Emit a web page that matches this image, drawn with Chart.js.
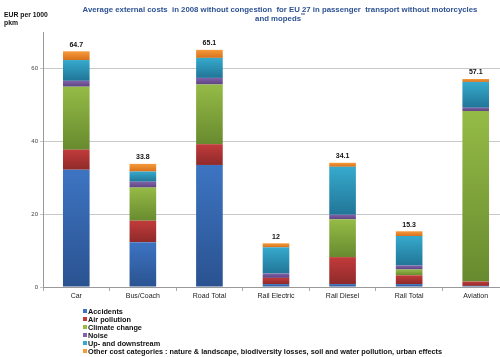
<!DOCTYPE html>
<html><head><meta charset="utf-8">
<script src="https://cdn.jsdelivr.net/npm/chart.js@4/dist/chart.umd.min.js"></script>
<style>
html,body{margin:0;padding:0;background:#fff;overflow:hidden;width:500px;height:357px;}
#wrap{position:relative;width:510px;height:357px;}
#c{position:absolute;left:0;top:0;}
.t{position:absolute;font-family:"Liberation Sans",Arial,sans-serif;}
#title{left:60px;width:440px;top:4.5px;text-align:center;color:#2d5292;font-weight:bold;font-size:7.8px;line-height:9.5px;}
#ylab{left:4px;top:10.5px;font-weight:bold;font-size:6.8px;line-height:8.5px;color:#111;}
#legend{left:83px;top:308px;font-size:7.3px;font-weight:bold;line-height:8px;color:#111;}
#legend div{white-space:nowrap;}
#legend span.b{display:inline-block;width:4px;height:4px;margin-right:1px;vertical-align:1px;}
</style></head>
<body>
<div id="wrap">
<canvas id="c" width="510" height="357"></canvas>
<div class="t" id="title">Average external costs&nbsp; in 2008 without congestion&nbsp; for EU 27 in passenger&nbsp; transport without motorcycles<br>and mopeds<sup style="font-size:5px;line-height:0">**</sup></div>
<div class="t" id="ylab">EUR per 1000<br>pkm</div>
<div class="t" id="legend"></div>
</div>
<script>
const categories = ["Car","Bus/Coach","Road Total","Rail Electric","Rail Diesel","Rail Total","Aviation"];
const accidents     = [32.2, 12.3, 33.5, 0.8, 0.8, 0.8, 0.3];
const airPollution  = [5.5, 5.9, 5.7, 1.7, 7.4, 2.4, 1.2];
const climateChange = [17.3, 9.1, 16.4, 0, 10.4, 1.6, 46.8];
const noise         = [1.6, 1.6, 1.8, 1.2, 1.2, 1.1, 0.9];
const upDownstream  = [5.7, 2.8, 5.5, 7.2, 13.2, 8.1, 7.1];
const otherCosts    = [2.4, 2.1, 2.2, 1.1, 1.1, 1.3, 0.8];
const totals        = ["64.7","33.8","65.1","12","34.1","15.3","57.1"];
const seriesNames = ["Accidents","Air pollution","Climate change","Noise","Up- and downstream","Other cost categories : nature & landscape, biodiversity losses, soil and water pollution, urban effects"];
const yTicks = [0,20,40,60];

const seriesData = [accidents, airPollution, climateChange, noise, upDownstream, otherCosts];
const colTop = ["#3d74c2","#c23b3b","#95bb46","#8262aa","#36aacd","#f59b3b"];
const colBot = ["#2a5290","#8f2a2a","#688a2f","#5c4380","#217597","#d8701b"];

// legend
const lg = document.getElementById('legend');
seriesNames.forEach((n,i)=>{
  const d=document.createElement('div');
  d.innerHTML='<span class="b" style="background:'+colTop[i]+'"></span>'+n.replace(/&/g,'&amp;');
  lg.appendChild(d);
});

function grad(ds){
  return (ctx)=>{
    if(ctx.type!=='data') return colTop[ds];
    const chart=ctx.chart, y=chart.scales.y;
    if(!y || !chart.chartArea) return colTop[ds];
    let base=0;
    for(let k=0;k<ds;k++) base+=seriesData[k][ctx.dataIndex];
    const v=seriesData[ds][ctx.dataIndex];
    const y0=y.getPixelForValue(base), y1=y.getPixelForValue(base+v);
    if(!isFinite(y0)||!isFinite(y1)||y0===y1) return colTop[ds];
    const g=chart.ctx.createLinearGradient(0,y1,0,y0);
    g.addColorStop(0,colTop[ds]); g.addColorStop(1,colBot[ds]);
    return g;
  };
}

const totalsPlugin={
  id:'totals',
  afterDatasetsDraw(chart){
    const c=chart.ctx, y=chart.scales.y, meta=chart.getDatasetMeta(seriesData.length-1);
    c.save();
    c.font='bold 7px "Liberation Sans", Arial, sans-serif';
    c.fillStyle='#111'; c.textAlign='center'; c.textBaseline='bottom';
    categories.forEach((_,i)=>{
      let s=0; seriesData.forEach(a=>s+=a[i]);
      c.fillText(totals[i], meta.data[i].x, y.getPixelForValue(s)-3);
    });
    c.restore();
  }
};

new Chart(document.getElementById('c'),{
  type:'bar',
  data:{labels:categories,datasets:seriesData.map((d,i)=>({
    label:seriesNames[i],data:d,backgroundColor:grad(i),
    borderWidth:0,
    categoryPercentage:1,barPercentage:0.4
  }))},
  options:{
    responsive:false,animation:false,
    layout:{padding:{top:32,right:1,left:0,bottom:0}},
    plugins:{legend:{display:false},tooltip:{enabled:false},title:{display:false}},
    scales:{
      x:{stacked:true,
        grid:{drawOnChartArea:false,offset:true,tickLength:4,color:'#aaa'},
        border:{color:'#999'},
        ticks:{font:{size:7,family:'"Liberation Sans", Arial, sans-serif'},color:'#222',padding:1,maxRotation:0},
        afterFit(s){s.height=70;}
      },
      y:{stacked:true,min:0,max:70,
        afterBuildTicks(s){s.ticks=yTicks.map(v=>({value:v})).concat([{value:70}]);},
        grid:{color:(c)=>c.tick && c.tick.value===70?'rgba(0,0,0,0)':'#c8c8c8',tickLength:3,drawTicks:true},
        border:{color:'#999'},
        ticks:{font:{size:6,family:'"Liberation Sans", Arial, sans-serif'},color:'#444',padding:2,
          callback:(v)=>v===70?'':v},
        afterFit(s){s.width=43;}
      }
    }
  },
  plugins:[totalsPlugin]
});
</script>
</body></html>
